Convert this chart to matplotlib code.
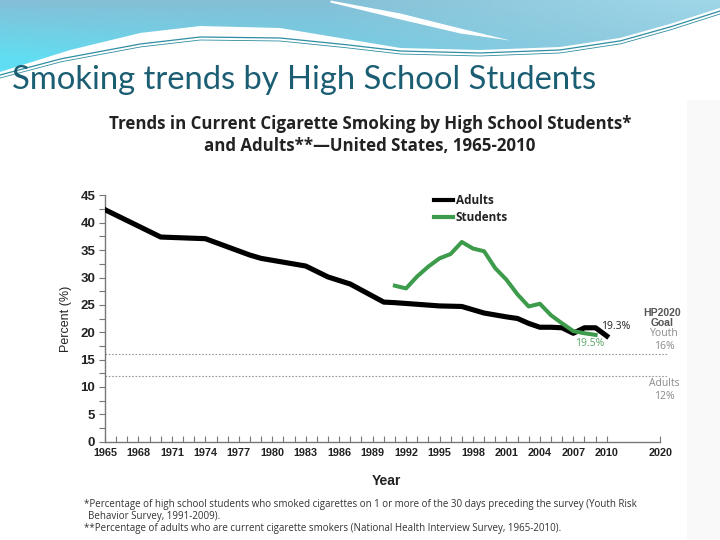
import numpy as np
import matplotlib.pyplot as plt
from matplotlib.path import Path
from matplotlib.patches import PathPatch, Rectangle

# data
adult_years = [1965, 1970, 1974, 1978, 1979, 1983, 1985, 1987, 1990, 1991, 1993, 1995,
               1997, 1999, 2001, 2002, 2003, 2004, 2005, 2006, 2007, 2008, 2009, 2010]
adult_pct = [42.4, 37.4, 37.1, 34.1, 33.5, 32.1, 30.1, 28.8, 25.5, 25.4, 25.1, 24.8,
             24.7, 23.5, 22.8, 22.5, 21.6, 20.9, 20.9, 20.8, 19.8, 20.8, 20.8, 19.3]

student_years = [1991, 1992, 1993, 1994, 1995, 1996, 1997, 1998, 1999, 2000,
                 2001, 2002, 2003, 2004, 2005, 2006, 2007, 2008, 2009]
student_pct = [28.5, 28.0, 30.2, 32.0, 33.5, 34.3, 36.5, 35.3, 34.8, 31.7,
               29.6, 26.9, 24.7, 25.2, 23.1, 21.6, 20.2, 19.8, 19.5]

goal_youth = 16
goal_adult = 12
tick_years = list(range(1965, 2011, 3))
goal_label = '2020'
goal_pos = 2014.8  # axis is squeezed after 2010, 2020 is drawn here

W, H = 720, 540
TEAL = '#1b5e73'
GREEN = '#3d9b4c'
AXFONT = 'Liberation Sans'


def fx(x):
    return x / W


def fy(y):
    return 1 - y / H


fig = plt.figure(figsize=(7.2, 5.4), dpi=100)

# slide background with the blue wave on top
bg = fig.add_axes([0, 0, 1, 1], zorder=-1)
bg.set_xlim(0, W)
bg.set_ylim(H, 0)
bg.axis('off')

bg.add_patch(Rectangle((687, 100), 33, 440, color='#f9f9f9', lw=0))

xs = np.linspace(0, W, 400)
edge = np.interp(xs, [0, 70, 140, 200, 280, 340, 400, 480, 560, 620, 670, 720],
                 [72, 50, 33, 26, 28, 38, 48, 50, 47, 38, 24, 8])
gx, gy = np.meshgrid(np.linspace(0, 1, 300), np.linspace(0, 1, 80))
c_top = np.array([0.52, 0.75, 0.84])
c_low = np.array([0.38, 0.87, 0.95])
c_right = np.array([0.62, 0.84, 0.91])
mix = np.clip(gy * (1 - gx) * 1.4, 0, 1)[..., None]
grad = c_top * (1 - mix) + c_low * mix
rmix = np.clip((gx - 0.45) * 2.0, 0, 1)[..., None] * (1 - gy[..., None] * 0.8)
grad = grad * (1 - rmix) + c_right * rmix
img = bg.imshow(grad, extent=[0, W, 80, 0], aspect='auto', zorder=1)
verts = list(zip(xs, edge)) + [(W, 0), (0, 0)]
clip = PathPatch(Path(verts), transform=bg.transData, fc='none', ec='none')
bg.add_patch(clip)
img.set_clip_path(clip)

sx = np.linspace(330, 510, 100)
s_up = np.interp(sx, [330, 400, 460, 510], [0, 13, 28, 40])
s_lo = np.interp(sx, [330, 400, 460, 510], [2, 19, 33, 40])
bg.fill_between(sx, s_up, s_lo, color='white', zorder=2, lw=0)

for off, lw in [(1, 0.9), (4, 0.6)]:
    ly = np.interp(xs, [0, 60, 140, 200, 280, 340, 400, 480, 560, 620, 670, 720],
                   [74, 58, 43, 36, 37, 43, 50, 52, 49, 40, 26, 10])
    bg.plot(xs, ly + off, color='#2f8ea3', lw=lw, zorder=3)

fig.text(fx(12), fy(80), 'Smoking trends by High School Students', family='Lato',
         fontsize=23.6, color=TEAL, va='center', ha='left')

fig.text(fx(370), fy(135), 'Trends in Current Cigarette Smoking by High School Students*\n'
         'and Adults**\u2014United States, 1965-2010', family='Open Sans', weight='bold',
         fontsize=12.2, color='#222222', ha='center', va='center', linespacing=1.3)

# chart
x_right = 1965 + (668 - 105) / 11.15
ax = fig.add_axes([fx(105), fy(441.5), fx(668 - 105), 246 / H])
ax.patch.set_alpha(0)
ax.set_xlim(1965, x_right)
ax.set_ylim(0, 45)

ax.axhline(goal_youth, color='#999999', lw=0.8, ls=(0, (1.5, 1.5)), zorder=1)
ax.axhline(goal_adult, color='#999999', lw=0.8, ls=(0, (1.5, 1.5)), zorder=1)

ax.plot(adult_years, adult_pct, color='black', lw=3.7, label='Adults',
        solid_joinstyle='round', zorder=3)
ax.plot(student_years, student_pct, color=GREEN, lw=2.9, label='Students',
        solid_joinstyle='round', zorder=4)

for side in ['top', 'right']:
    ax.spines[side].set_visible(False)
for side in ['left', 'bottom']:
    ax.spines[side].set_color('#777777')
    ax.spines[side].set_linewidth(1)
ax.spines['bottom'].set_bounds(1965, goal_pos)

ax.set_yticks(range(0, 46, 5))
ax.set_yticks(np.arange(0, 45, 2.5), minor=True)
ax.set_xticks(tick_years + [goal_pos])
ax.set_xticklabels([str(y) for y in tick_years] + [goal_label])
ax.set_xticks(list(range(1965, 2011)), minor=True)
ax.tick_params(axis='y', which='both', direction='out', length=4, width=0.8,
               color='#777777', labelsize=9.5, pad=3)
ax.tick_params(axis='x', which='both', direction='in', length=4, width=0.8,
               color='#777777', labelsize=7.8, pad=5)
for lab in ax.get_yticklabels() + ax.get_xticklabels():
    lab.set_fontweight('bold')
    lab.set_family(AXFONT)
    lab.set_color('#222222')

ax.set_ylabel('Percent (%)', fontsize=9, family=AXFONT, color='#222222', labelpad=6)
ax.set_xlabel('Year', fontsize=10, family=AXFONT, weight='bold', color='#222222',
              labelpad=11)

ax.annotate('%.1f%%' % adult_pct[-1], (adult_years[-1], adult_pct[-1]),
            xytext=(-4, 6.5), textcoords='offset points', fontsize=7.5,
            color='#222222', ha='left', va='center', family='Open Sans')
ax.annotate('%.1f%%' % student_pct[-1], (student_years[-1], student_pct[-1]),
            xytext=(-4.5, -6), textcoords='offset points', fontsize=7.5,
            color='#5aa868', ha='center', va='center', family='Open Sans')

leg = ax.legend(loc='upper left', bbox_to_anchor=(fx(429), fy(189)),
                bbox_transform=fig.transFigure, frameon=False, borderaxespad=0,
                handlelength=1.6, handletextpad=0.25, labelspacing=0.35,
                prop={'family': 'Open Sans', 'weight': 'bold', 'size': 8.5})
for t in leg.get_texts():
    t.set_color('#222222')
for h in leg.get_lines():
    h.set_linewidth(3)

fig.text(fx(662), fy(318), 'HP2020\nGoal', fontsize=7.5, weight='bold', family=AXFONT,
         color='#555555', ha='center', va='center', linespacing=0.95)
fig.text(fx(664), fy(340), 'Youth\n%d%%' % goal_youth, fontsize=7.5, family='Open Sans',
         color='#8a8a8a', ha='center', va='center', linespacing=1.15)
fig.text(fx(664), fy(390), 'Adults\n%d%%' % goal_adult, fontsize=7.5, family='Open Sans',
         color='#8a8a8a', ha='center', va='center', linespacing=1.25)

fig.text(fx(84), fy(504), '*Percentage of high school students who smoked cigarettes on 1 '
         'or more of the 30 days preceding the survey (Youth Risk', fontsize=7.0,
         family='Open Sans', color='#333333', va='center')
fig.text(fx(88), fy(516.5), 'Behavior Survey, 1991-2009).', fontsize=7.0,
         family='Open Sans', color='#333333', va='center')
fig.text(fx(84), fy(529), '**Percentage of adults who are current cigarette smokers '
         '(National Health Interview Survey, 1965-2010).', fontsize=7.0,
         family='Open Sans', color='#333333', va='center')

fig.savefig('out.png', dpi=100)
